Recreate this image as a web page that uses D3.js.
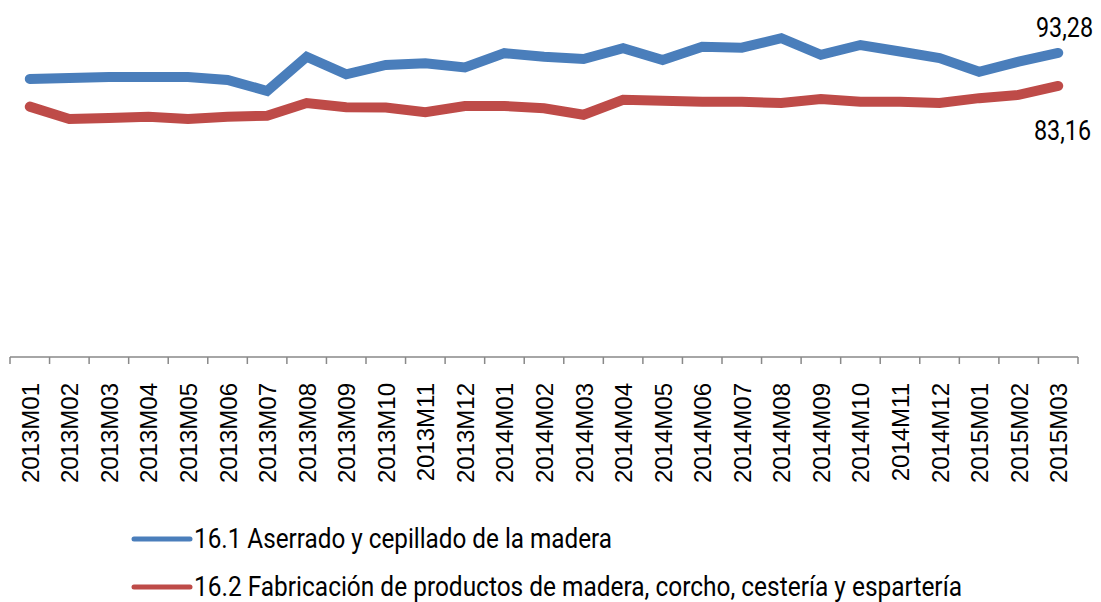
<!DOCTYPE html>
<html>
<head>
<meta charset="utf-8">
<script src="https://cdn.jsdelivr.net/npm/d3@7"></script>
<style>
  body { margin: 0; background: #fff; }
  svg { display: block; }
</style>
</head>
<body>
<svg id="chart" width="1101" height="602"></svg>
<script>
// months shown on the x axis
const months = [
  "2013M01", "2013M02", "2013M03", "2013M04", "2013M05", "2013M06", "2013M07",
  "2013M08", "2013M09", "2013M10", "2013M11", "2013M12",
  "2014M01", "2014M02", "2014M03", "2014M04", "2014M05", "2014M06", "2014M07",
  "2014M08", "2014M09", "2014M10", "2014M11", "2014M12",
  "2015M01", "2015M02", "2015M03"
];

// 16.1 Aserrado y cepillado de la madera
const aserrado = [
  85.3, 85.6, 85.9, 85.9, 85.9, 85.0, 81.6, 92.1, 86.7, 89.6, 90.1, 88.8,
  93.2, 92.1, 91.4, 94.7, 91.1, 95.2, 94.9, 97.8, 92.7, 95.7, 93.7, 91.7,
  87.5, 90.6, 93.28
];

// 16.2 Fabricación de productos de madera, corcho, cestería y espartería
const fabricacion = [
  76.8, 73.0, 73.3, 73.7, 73.0, 73.7, 74.0, 77.9, 76.6, 76.5, 75.1, 77.0,
  77.0, 76.3, 74.3, 78.9, 78.6, 78.3, 78.3, 77.9, 79.1, 78.3, 78.3, 77.9,
  79.4, 80.4, 83.16
];

const seriesNames = [
  "16.1 Aserrado y cepillado de la madera",
  "16.2 Fabricación de productos de madera, corcho, cestería y espartería"
];
const endLabels = ["93,28", "83,16"];

var svg = d3.select("#chart");

var colors = ["#4a7ebb", "#be4b48"];
var textFont = "'Liberation Sans Narrow', Roboto, 'Noto Sans', sans-serif";

var x = d3.scaleBand().domain(months).range([10, 1078]).padding(0);
var y = d3.scaleLinear().domain([0, 100]).range([357, 31]);

// x axis: baseline plus ticks on category boundaries
var axisG = svg.append("g").attr("class", "x-axis");
axisG.append("line")
  .attr("x1", x.range()[0]).attr("x2", x.range()[1])
  .attr("y1", y(0)).attr("y2", y(0))
  .attr("stroke", "#898989").attr("stroke-width", 1.5);

var bounds = months.map((m) => x(m)).concat([x.range()[1]]);
axisG.selectAll(".tick")
  .data(bounds)
  .enter()
  .append("line")
  .attr("x1", (d) => d).attr("x2", (d) => d)
  .attr("y1", y(0)).attr("y2", y(0) + 7)
  .attr("stroke", "#898989").attr("stroke-width", 1.5);

axisG.selectAll(".label")
  .data(months)
  .enter()
  .append("text")
  .attr("transform", (d) =>
    "translate(" + (x(d) + x.bandwidth() / 2 + 9) + "," + 383 + ") rotate(-90)")
  .style("text-anchor", "end")
  .style("font-family", "'Liberation Sans', Arial, sans-serif")
  .style("font-size", "24px")
  .attr("fill", "#000")
  .text((d) => d);

// lines
var line = d3.line()
  .x((d, i) => x(months[i]) + x.bandwidth() / 2)
  .y((d) => y(d));

var allSeries = [aserrado, fabricacion];

svg.selectAll(".serie")
  .data(allSeries)
  .enter()
  .append("path")
  .attr("class", "serie")
  .attr("d", line)
  .attr("fill", "none")
  .attr("stroke", (d, i) => colors[i])
  .attr("stroke-width", 10)
  .attr("stroke-linejoin", "miter")
  .attr("stroke-linecap", "round");

// value labels at the last point
svg.append("text")
  .attr("x", 1036).attr("y", y(aserrado[aserrado.length - 1]) - 16)
  .style("font-family", textFont)
  .style("font-size", "27px")
  .attr("textLength", 57).attr("lengthAdjust", "spacingAndGlyphs")
  .attr("fill", "#000")
  .text(endLabels[0]);

svg.append("text")
  .attr("x", 1034).attr("y", y(fabricacion[fabricacion.length - 1]) + 54)
  .style("font-family", textFont)
  .style("font-size", "27px")
  .attr("textLength", 57).attr("lengthAdjust", "spacingAndGlyphs")
  .attr("fill", "#000")
  .text(endLabels[1]);

// legend
var legendWidths = [418, 768];
var legend = svg.selectAll(".legend")
  .data(seriesNames)
  .enter()
  .append("g")
  .attr("class", "legend")
  .attr("transform", (d, i) => "translate(0," + (539 + i * 48) + ")");

legend.append("line")
  .attr("x1", 134).attr("x2", 190)
  .attr("y1", 0).attr("y2", 0)
  .attr("stroke", (d, i) => colors[i])
  .attr("stroke-width", 5)
  .attr("stroke-linecap", "round");

legend.append("text")
  .attr("x", 194).attr("y", 9)
  .style("font-family", textFont)
  .style("font-size", "27px")
  .attr("textLength", (d, i) => legendWidths[i])
  .attr("lengthAdjust", "spacingAndGlyphs")
  .attr("fill", "#000")
  .text((d) => d);
</script>
</body>
</html>
